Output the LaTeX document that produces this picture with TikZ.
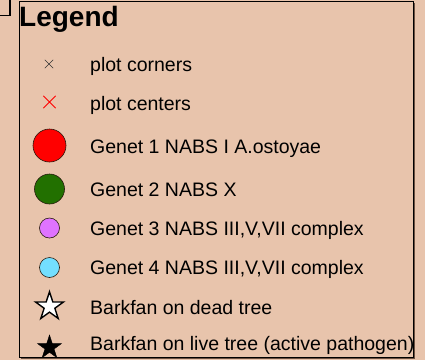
\documentclass[tikz,border=0pt]{standalone}
\usepackage{fontspec}
\setmainfont{Liberation Sans}
\usetikzlibrary{shapes.geometric}
\definecolor{sand}{HTML}{E8C4AC}
\definecolor{framebrown}{HTML}{6B5040}
\definecolor{genetgreen}{HTML}{227000}
\definecolor{genetviolet}{HTML}{DF73FF}
\definecolor{genetcyan}{HTML}{73DFFF}
\tikzset{
  lbl/.style={anchor=base west, inner sep=0pt, font=\fontsize{19.5}{22}\selectfont},
  dot/.style={circle, draw=black!80!brown, line width=0.6pt, inner sep=0pt},
  starmark/.style={star, star points=5, star point ratio=2.618, inner sep=0pt, draw=black},
}
\begin{document}
\begin{tikzpicture}[x=1pt, y=-1pt]
  % canvas
  \fill[sand] (0,0) rectangle (425,360);
  \useasboundingbox (0,0) rectangle (425,360);
  % corner of the neighbouring frame
  \draw[line width=1.4pt] (0,15.5) -- (10,15.5) -- (10,0);
  % legend frame with its shadow
  \draw[draw=framebrown, line width=2pt] (414,3) -- (414,357.5) -- (21,357.5);
  \draw[black, line width=1pt] (19.5,357) -- (19.5,1.8) -- (413,1.8) -- (413,357) -- cycle;

  \node[anchor=base west, inner sep=0pt, font=\fontsize{28}{30}\selectfont\bfseries] (title) at (19,26.7) {Legend};

  % plot markers
  \node[inner sep=0pt, minimum size=8pt] (m1) at (49,64) {};
  \draw[black!80, line width=0.5pt] (m1.south west) -- (m1.north east) (m1.north west) -- (m1.south east);
  \node[inner sep=0pt, minimum size=12pt] (m2) at (49.5,102) {};
  \draw[red, line width=0.8pt] (m2.south west) -- (m2.north east) (m2.north west) -- (m2.south east);

  % genet symbols
  \node[dot, fill=red, minimum size=33pt] (g1) at (49.5,145.5) {};
  \node[dot, fill=genetgreen, minimum size=30pt] (g2) at (49.5,189) {};
  \node[dot, fill=genetviolet, minimum size=20pt] (g3) at (49.5,228) {};
  \node[dot, fill=genetcyan, minimum size=20pt] (g4) at (49.5,267.5) {};

  % barkfan symbols
  \node[starmark, fill=white, line width=1.4pt, minimum size=29.5pt] (s1) at (49.5,306.5) {};
  \node[starmark, fill=black, minimum size=25pt] (s2) at (49.5,347.5) {};

  % labels
  \node[lbl] (l1) at (90,71.7) {plot corners};
  \node[lbl] (l2) at (90,110) {plot centers};
  \node[lbl] (l3) at (90,153.3) {Genet 1 NABS I A.ostoyae};
  \node[lbl] (l4) at (90,196.7) {Genet 2 NABS X};
  \node[lbl] (l5) at (90,235.7) {Genet 3 NABS III,V,VII complex};
  \node[lbl] (l6) at (90,274.3) {Genet 4 NABS III,V,VII complex};
  \node[lbl] (l7) at (90,314) {Barkfan on dead tree};
  \node[lbl] (l8) at (90,350.7) {Barkfan on live tree (active pathogen)};
\end{tikzpicture}
\end{document}
